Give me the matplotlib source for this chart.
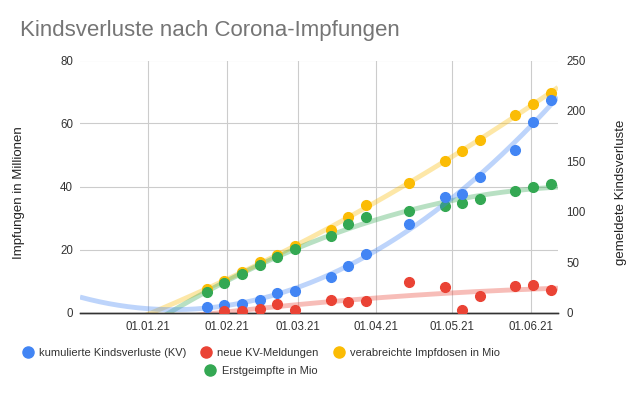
import numpy as np
import matplotlib
matplotlib.use("Agg")
import matplotlib.pyplot as plt
import matplotlib.dates as mdates
from matplotlib.lines import Line2D

plt.rcParams["font.family"] = ["Liberation Sans", "DejaVu Sans"]

# weekly reporting dates
dates = np.array(["2021-01-24", "2021-01-31", "2021-02-07", "2021-02-14", "2021-02-21",
                  "2021-02-28", "2021-03-14", "2021-03-21", "2021-03-28", "2021-04-14",
                  "2021-04-28", "2021-05-05", "2021-05-12", "2021-05-26", "2021-06-02",
                  "2021-06-09"], dtype="datetime64[D]")

# right axis: reported child losses
kv_cum = [5.8, 7.4, 8.1, 12.4, 19.6, 21.6, 34.9, 46.1, 58.0, 87.8, 114.3, 117.3, 134.1, 161.2, 189.0, 210.8]
kv_new = [np.nan, 1.5, 1.8, 3.5, 8.2, 2.5, 12.4, 10.7, 11.7, 30.0, 25.6, 2.5, 16.7, 26.6, 27.6, 22.0]

# left axis: vaccinations in millions
doses = [7.4, 10.1, 13.0, 15.9, 18.3, 21.1, 26.2, 30.4, 34.1, 41.0, 48.2, 51.3, 54.8, 62.6, 66.2, 69.8]
first_dose = [6.6, 9.3, 12.2, 15.1, 17.5, 20.1, 24.4, 28.0, 30.4, 32.3, 33.9, 34.9, 35.9, 38.6, 39.7, 40.8]

month_ticks = np.array(["2021-01-01", "2021-02-01", "2021-03-01", "2021-04-01", "2021-05-01",
                        "2021-06-01"], dtype="datetime64[D]")

BLUE, RED, YELLOW, GREEN = "#4285f4", "#ea4335", "#fbbc04", "#34a853"

x_lo = np.datetime64("2020-12-05T00:00")
x_hi = np.datetime64("2021-06-11T19:00")

fig = plt.figure(figsize=(6.4, 3.96), dpi=100)
ax = fig.add_axes([80 / 640, 1 - 312.5 / 396, 478 / 640, 252 / 396])
ax2 = ax.twinx()

xnum = mdates.date2num(dates)
xs = np.linspace(mdates.date2num(x_lo), mdates.date2num(x_hi), 300)


def trend(axis, y, color):
    y = np.asarray(y, dtype=float)
    ok = ~np.isnan(y)
    c = np.polyfit(xnum[ok], y[ok], 2)
    axis.plot(xs, np.polyval(c, xs), color=color, lw=3.5, alpha=0.35,
              solid_capstyle="butt", zorder=2)


trend(ax, doses, YELLOW)
trend(ax, first_dose, GREEN)
ax.plot(xnum, doses, "o", color=YELLOW, ms=7, zorder=3)
ax.plot(xnum, first_dose, "o", color=GREEN, ms=7, zorder=3)

trend(ax2, kv_cum, BLUE)
trend(ax2, kv_new, RED)
ax2.plot(xnum, kv_cum, "o", color=BLUE, ms=7, zorder=3)
ax2.plot(xnum, kv_new, "o", color=RED, ms=7, zorder=3)

ax.set_xlim(mdates.date2num(x_lo), mdates.date2num(x_hi))
ax.set_ylim(0, 80)
ax2.set_ylim(0, 250)
ax.set_yticks([0, 20, 40, 60, 80])
ax2.set_yticks([0, 50, 100, 150, 200, 250])
ax.set_xticks(mdates.date2num(month_ticks))
ax.xaxis.set_major_formatter(mdates.DateFormatter("%d.%m.%y"))

ax.grid(True, color="#cccccc", lw=0.8)
ax.set_axisbelow(True)
for a in (ax, ax2):
    for s in ("top", "left", "right"):
        a.spines[s].set_visible(False)
    a.spines["bottom"].set_color("#333333")
    a.spines["bottom"].set_linewidth(1.0)
    a.tick_params(length=0, labelsize=8.3, labelcolor="#333333")
ax.tick_params(axis="x", pad=6)
ax.tick_params(axis="y", pad=5)
ax2.tick_params(axis="y", pad=6)

ax.set_ylabel("Impfungen in Millionen", fontsize=9.5, color="#222222")
ax.yaxis.set_label_coords(-0.115, 0.476)
ax2.set_ylabel("gemeldete Kindsverluste", fontsize=9.5, color="#222222")
ax2.yaxis.set_label_coords(1.119, 0.476)

fig.text(20 / 640, 1 - 36 / 396, "Kindsverluste nach Corona-Impfungen", fontsize=16,
         color="#757575", ha="left", va="baseline")


def handle(color):
    return Line2D([], [], ls="none", marker="o", ms=8, color=color)


leg_kw = dict(frameon=False, fontsize=8, handlelength=1.0, handletextpad=0.5,
              columnspacing=1.3, labelcolor="#333333", borderpad=0, borderaxespad=0)
fig.legend([handle(BLUE), handle(RED), handle(YELLOW)],
           ["kumulierte Kindsverluste (KV)", "neue KV-Meldungen", "verabreichte Impfdosen in Mio"],
           loc="center", bbox_to_anchor=(261 / 640, 1 - 353 / 396), ncol=3, **leg_kw)
fig.legend([handle(GREEN)], ["Erstgeimpfte in Mio"],
           loc="center", bbox_to_anchor=(261 / 640, 1 - 371 / 396), ncol=1, **leg_kw)

fig.savefig("out.png", dpi=100)
